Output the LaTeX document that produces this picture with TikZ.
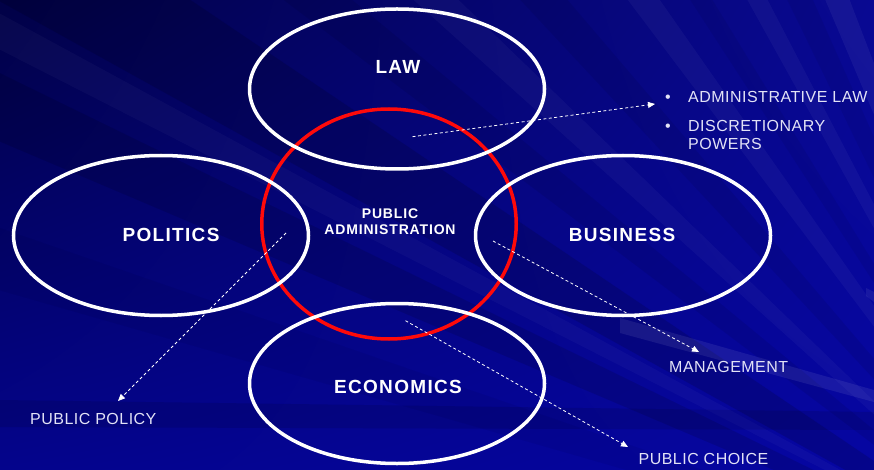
\documentclass[tikz,border=0pt]{standalone}
\usepackage{fontspec}
\setmainfont{Liberation Sans}
\newfontfamily\bigfont[LetterSpace=7]{Liberation Sans}
\newfontfamily\pafont[LetterSpace=6]{Liberation Sans}
\newfontfamily\labfont[LetterSpace=3]{Liberation Sans}
\usetikzlibrary{shapes.geometric,arrows.meta,shadings}
\definecolor{bgA}{RGB}{1,1,70}
\definecolor{bgB}{RGB}{9,9,146}
\definecolor{bgC}{RGB}{4,4,140}
\definecolor{bgD}{RGB}{6,6,162}
\definecolor{labtxt}{RGB}{226,226,246}
\definecolor{redring}{RGB}{255,10,10}
\tikzset{
  ring/.style={ellipse, draw=white, line width=3.5pt, minimum width=295pt, minimum height=160pt, inner sep=0pt},
  redc/.style={ellipse, draw=redring, line width=3.5pt, minimum width=254.5pt, minimum height=230pt, inner sep=0pt},
  bigl/.style={text=white, font=\bigfont\bfseries\fontsize{19}{21}\selectfont, inner sep=0pt},
  pal/.style={text=white, font=\pafont\bfseries\fontsize{14}{16}\selectfont, inner sep=0pt, align=center},
  lab/.style={text=labtxt, font=\labfont\fontsize{16}{18.6}\selectfont, inner sep=0pt},
  conn/.style={draw=white, line width=0.8pt, dash pattern=on 3pt off 2.5pt, -{Triangle[width=6pt,length=7pt]}},
  darkray/.style={fill=black, opacity=#1},
  lightray/.style={fill=white, opacity=#1},
}
\begin{document}
\begin{tikzpicture}[x=1pt,y=-1pt]
\useasboundingbox (0,0) rectangle (874,470);
% background
\shade[upper left=bgA, upper right=bgB, lower left=bgC, lower right=bgD] (0,0) rectangle (874,470);
\begin{scope}
\clip (0,0) rectangle (874,470);
\begin{scope}[shift={(1080,600)}]
\fill[darkray=0.12] (0,0) -- (203:2200) -- (206:2200) -- cycle;
\fill[darkray=0.14] (0,0) -- (209:2200) -- (214:2200) -- cycle;
\fill[darkray=0.08] (0,0) -- (217:2200) -- (219.5:2200) -- cycle;
\fill[darkray=0.07] (0,0) -- (227:2200) -- (229.5:2200) -- cycle;
\fill[darkray=0.06] (0,0) -- (237:2200) -- (238.5:2200) -- cycle;
\fill[darkray=0.06] (0,0) -- (244:2200) -- (246:2200) -- cycle;
\fill[darkray=0.05] (0,0) -- (196:2200) -- (199:2200) -- cycle;
\fill[lightray=0.03] (0,0) -- (207:2200) -- (208.5:2200) -- cycle;
\fill[lightray=0.035] (0,0) -- (222:2200) -- (224:2200) -- cycle;
\fill[lightray=0.04] (0,0) -- (233:2200) -- (235:2200) -- cycle;
\fill[lightray=0.04] (0,0) -- (241:2200) -- (242.5:2200) -- cycle;
\fill[lightray=0.05] (0,0) -- (247:2200) -- (249:2200) -- cycle;
\end{scope}
\fill[darkray=0.10] (0,400) -- (874,412) -- (874,430) -- (0,427) -- cycle;
\fill[lightray=0.08] (620,318) -- (874,390) -- (874,402) -- (620,333) -- cycle;
\fill[lightray=0.07] (866,288) -- (874,292) -- (874,302) -- (866,296) -- cycle;
\end{scope}
% rings (red underneath the white ones)
\node[redc] (pa) at (389,224) {};
\node[ring] (law) at (397,89) {};
\node[ring] (pol) at (161,235.5) {};
\node[ring] (bus) at (623,235.5) {};
\node[ring] (eco) at (397,383.5) {};
% ring texts
\node[bigl] (tlaw) at (398,67) {LAW};
\node[bigl] (tpol) at (171,235) {POLITICS};
\node[bigl] (tbus) at (622,235) {BUSINESS};
\node[bigl] (teco) at (398,387) {ECONOMICS};
\node[pal] (tpa) at (390,222) {PUBLIC\\ADMINISTRATION};
% outside labels
\node[lab, anchor=base] (b1) at (668,102.5) {•};
\node[lab, anchor=base] (b2) at (668,131.5) {•};
\node[lab, anchor=west] (adm) at (688,96.7) {ADMINISTRATIVE LAW};
\node[lab, anchor=north west, align=left] (disc) at (688,120) {DISCRETIONARY\\POWERS};
\node[lab] (mgmt) at (728.7,366.7) {MANAGEMENT};
\node[lab] (pch) at (703.5,459.3) {PUBLIC CHOICE};
\node[lab] (ppol) at (93.3,419.3) {PUBLIC POLICY};
% connectors
\coordinate (a1s) at (412.5,136.7);
\coordinate (a1e) at (655,104);
\coordinate (a2s) at (286,233);
\coordinate (a2e) at (118,401);
\coordinate (a3s) at (493,241);
\coordinate (a3e) at (699,352);
\coordinate (a4s) at (405.5,320.7);
\coordinate (a4e) at (628,447);
\draw[conn] (a1s) -- (a1e);
\draw[conn] (a2s) -- (a2e);
\draw[conn] (a3s) -- (a3e);
\draw[conn] (a4s) -- (a4e);
\end{tikzpicture}
\end{document}
